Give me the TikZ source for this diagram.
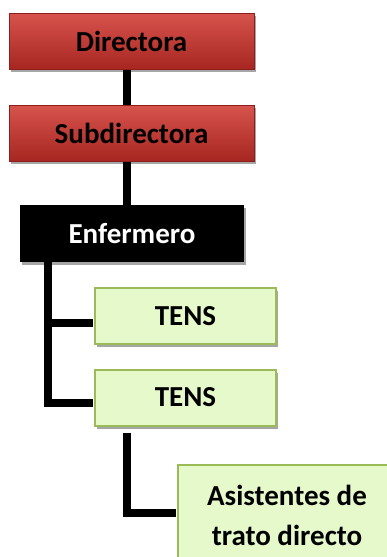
\documentclass[tikz,border=0pt]{standalone}
\usepackage{fontspec}
\setmainfont{Carlito}
\usetikzlibrary{shadows,calc}
\definecolor{redtop}{RGB}{214,84,76}
\definecolor{redbot}{RGB}{168,38,33}
\definecolor{redline}{RGB}{140,30,28}
\definecolor{greenfill}{RGB}{229,249,203}
\definecolor{greenline}{RGB}{155,187,89}
\tikzset{
  boxbase/.style={rectangle, inner sep=0pt, align=center,
    font=\fontsize{29}{40}\selectfont\bfseries,
    drop shadow={shadow xshift=2pt, shadow yshift=-3pt, opacity=0.35, fill=black}},
  redbox/.style={boxbase, top color=redtop, bottom color=redbot, draw=redline, line width=0.8pt,
    minimum width=245pt, minimum height=56pt},
  blackbox/.style={boxbase, fill=black, text=white, minimum width=224pt, minimum height=57pt},
  greenbox/.style={boxbase, fill=greenfill, draw=greenline, line width=2pt,
    minimum width=181pt, minimum height=56pt},
  conn/.style={line width=8pt, black}
}
\begin{document}
\begin{tikzpicture}[x=1pt,y=-1pt]
\useasboundingbox (0,0) rectangle (387,557);
\begin{scope}
\clip (0,0) rectangle (387,557);
\draw[conn] (127,69) coordinate (c1) -- (127,105) coordinate (c2);
\draw[conn] (127,161) coordinate (c3) -- (127,206) coordinate (c4);
\node[redbox] (dir) at (131.5,41) {Directora};
\node[redbox] (sub) at (131.5,133) {Subdirectora};
\node[blackbox] (enf) at (132,233.5) {Enfermero};
\node[greenbox] (t1) at (185.5,316) {TENS};
\node[greenbox] (t2) at (185.5,397.5) {TENS};
\node[greenbox, minimum width=218pt, minimum height=100pt] (asi) at (287,515) {Asistentes de\\trato directo};
\draw[conn] ([xshift=28pt]enf.south west) |- ([xshift=-1pt,yshift=-5.5pt]t2.west);
\draw[conn] ([xshift=28pt]enf.south west) |- ([xshift=-1pt,yshift=-7pt]t1.west);
\draw[conn] ([xshift=33pt,yshift=-6pt]t2.south west) |- ([xshift=-1pt,yshift=2.5pt]asi.west);
\end{scope}
\end{tikzpicture}
\end{document}
